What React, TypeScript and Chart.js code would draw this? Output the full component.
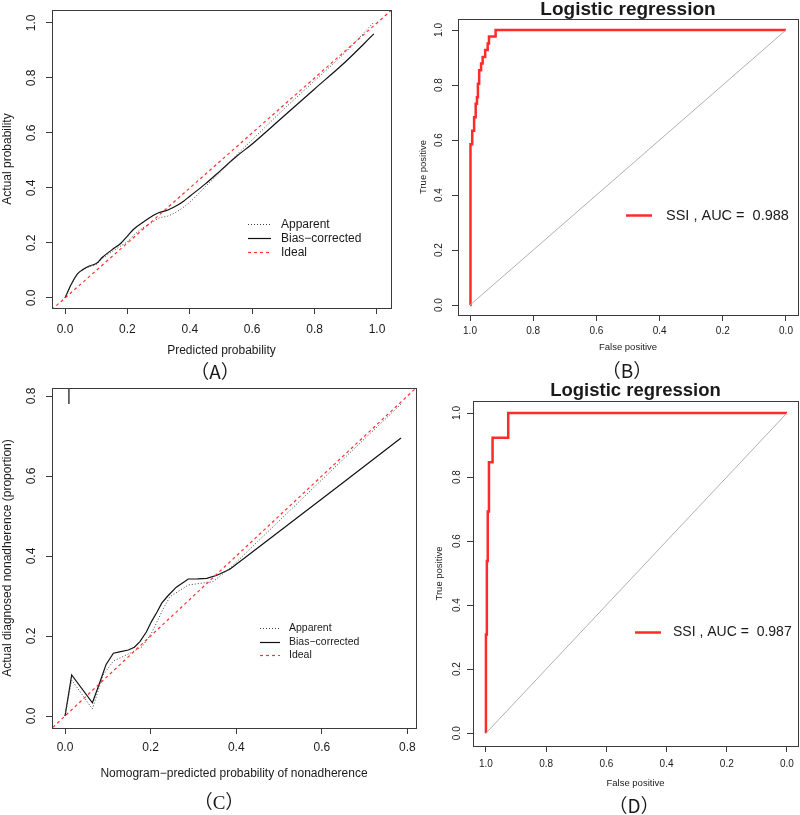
import React, { useEffect, useRef } from 'react';
import { Chart, registerables } from 'chart.js';
Chart.register(...registerables);

const W = 800;
const H = 815;
const FONT = '"Liberation Sans", Arial, Helvetica, sans-serif';
const CJK = '"Noto Sans CJK SC", sans-serif';
const CJK_SERIF = '"Liberation Serif", "Noto Sans CJK SC", serif';

// ---------- Panel A: calibration ----------
const A_X_TICKS = [0, 0.2, 0.4, 0.6, 0.8, 1.0];
const A_Y_TICKS = [0, 0.2, 0.4, 0.6, 0.8, 1.0];
const A_PRED = [0.00, 0.02, 0.04, 0.06, 0.08, 0.10, 0.12, 0.15, 0.18, 0.20, 0.22, 0.25, 0.28, 0.30, 0.33, 0.36, 0.38, 0.40, 0.45, 0.50, 0.55, 0.60, 0.70, 0.80, 0.90, 0.99];
const A_BIAS = [0.00, 0.05, 0.088, 0.105, 0.117, 0.125, 0.148, 0.175, 0.20, 0.225, 0.25, 0.275, 0.298, 0.31, 0.32, 0.337, 0.352, 0.37, 0.415, 0.465, 0.515, 0.56, 0.66, 0.76, 0.86, 0.96];
const A_APP = [0.00, 0.048, 0.086, 0.103, 0.114, 0.122, 0.143, 0.168, 0.19, 0.205, 0.228, 0.255, 0.275, 0.29, 0.298, 0.315, 0.33, 0.348, 0.405, 0.46, 0.52, 0.575, 0.685, 0.79, 0.895, 1.003];
const A_IDEAL = [-0.1, 1.1];

// ---------- Panel C: calibration ----------
const C_X_TICKS = [0, 0.2, 0.4, 0.6, 0.8];
const C_Y_TICKS = [0, 0.2, 0.4, 0.6, 0.8];
const C_PRED = [0.0, 0.0156, 0.064, 0.08, 0.096, 0.113, 0.13, 0.148, 0.162, 0.175, 0.19, 0.202, 0.215, 0.226, 0.24, 0.26, 0.288, 0.31, 0.331, 0.355, 0.385, 0.45, 0.55, 0.65, 0.785];
const C_BIAS = [0.0, 0.1025, 0.033, 0.08, 0.129, 0.157, 0.161, 0.165, 0.172, 0.186, 0.21, 0.236, 0.26, 0.282, 0.3, 0.322, 0.3425, 0.343, 0.344, 0.352, 0.367, 0.42, 0.502, 0.584, 0.695];
const C_APP_X = [0.0, 0.0156, 0.064, 0.089, 0.113, 0.152, 0.18, 0.202, 0.229, 0.245, 0.288, 0.346, 0.389, 0.45, 0.55, 0.65, 0.785];
const C_APP_Y = [0.0, 0.09, 0.0175, 0.1025, 0.1375, 0.157, 0.173, 0.207, 0.267, 0.298, 0.3275, 0.336, 0.373, 0.436, 0.539, 0.642, 0.78];
const C_IDEAL = [-0.1, 0.9];
const C_SPIKE_X = [0.009, 0.009];
const C_SPIKE_Y = [0.9, 0.78];

// ---------- Panels B & D: ROC ----------
const ROC_TICKS = [1.0, 0.8, 0.6, 0.4, 0.2, 0.0];
const ROC_DIAG_SPEC = [1, 0];
const ROC_DIAG_SENS = [0, 1];
const B_SPEC = [1.0, 1.0, 0.997, 0.993, 0.987, 0.982, 0.978, 0.975, 0.971, 0.965, 0.960, 0.952, 0.944, 0.940, 0.919, 0.0];
const B_SENS = [0.0, 0.463, 0.585, 0.634, 0.683, 0.732, 0.756, 0.805, 0.854, 0.878, 0.902, 0.927, 0.951, 0.976, 1.0, 1.0];
const B_AUC = 0.988;
const D_SPEC = [1.0, 1.0, 0.997, 0.994, 0.99, 0.978, 0.926, 0.0];
const D_SENS = [0.0, 0.308, 0.538, 0.692, 0.846, 0.923, 1.0, 1.0];
const D_AUC = 0.987;

const CAL_LABELS = ['Apparent', 'Bias\u2212corrected', 'Ideal'];
const ROC_LABEL = 'SSI';

type Pt = { x: number; y: number };
const pts = (xs: number[], ys: number[]): Pt[] => xs.map((x, i) => ({ x, y: ys[i] }));
const steps = (spec: number[], sens: number[]): Pt[] => {
  const out: Pt[] = [];
  spec.forEach((s, i) => {
    if (i > 0) out.push({ x: s, y: sens[i - 1] });
    out.push({ x: s, y: sens[i] });
  });
  return out;
};

const RED = '#ff2a2a';
const AXIS = '#3a3a3a';
const TXT = '#1a1a1a';

const STY_APP = { color: '#404040', width: 1, dash: [1, 2] };
const STY_BIAS = { color: '#111111', width: 1.2, dash: [] as number[] };
const STY_IDEAL = { color: '#ff3030', width: 1.2, dash: [3, 3] };

function line(data: Pt[], sty: any, extra: any = {}) {
  return {
    data,
    showLine: true,
    borderColor: sty.color,
    borderWidth: sty.width,
    borderDash: sty.dash,
    pointRadius: 0,
    fill: false,
    tension: 0,
    ...extra,
  };
}

function rotText(ctx: CanvasRenderingContext2D, s: string, x: number, y: number, font: string) {
  ctx.save();
  ctx.translate(x, y);
  ctx.rotate(-Math.PI / 2);
  ctx.font = font;
  ctx.textAlign = 'center';
  ctx.textBaseline = 'middle';
  ctx.fillText(s, 0, 0);
  ctx.restore();
}

function decor(p: any) {
  return {
    id: 'decor_' + p.key,
    afterDraw(chart: any) {
      const { ctx, chartArea: a, scales } = chart;
      ctx.save();
      ctx.strokeStyle = AXIS;
      ctx.lineWidth = 1;
      ctx.setLineDash([]);
      ctx.strokeRect(Math.round(a.left) + 0.5, Math.round(a.top) + 0.5, Math.round(a.right - a.left), Math.round(a.bottom - a.top));
      ctx.fillStyle = TXT;
      // y tick labels (rotated like R)
      const yf = `${p.tickSize}px ${FONT}`;
      p.yTicks.forEach((v: number) => rotText(ctx, v.toFixed(1), p.yTickX, scales.y.getPixelForValue(v), yf));
      // axis titles
      ctx.font = `${p.axisTitleSize}px ${FONT}`;
      ctx.textAlign = 'center';
      ctx.textBaseline = 'middle';
      ctx.fillText(p.xTitle, (a.left + a.right) / 2, p.xTitleY);
      rotText(ctx, p.yTitle, p.yTitleX, (a.top + a.bottom) / 2, `${p.axisTitleSize}px ${FONT}`);
      // main title
      if (p.title) {
        ctx.font = `bold ${p.title.size}px ${FONT}`;
        ctx.textBaseline = 'alphabetic';
        ctx.textAlign = 'center';
        ctx.fillText(p.title.text, (a.left + a.right) / 2, p.title.y);
      }
      // panel letter
      ctx.font = `${p.letter.size}px ${p.letter.font}`;
      ctx.textBaseline = 'middle';
      ctx.textAlign = 'center';
      ctx.fillText(p.letter.text, p.letter.x, p.letter.y);
      // legend
      const lg = p.legend;
      ctx.font = `${lg.size}px ${FONT}`;
      ctx.textAlign = 'left';
      ctx.textBaseline = 'middle';
      lg.items.forEach((it: any, i: number) => {
        const y = Math.round(lg.y + i * lg.dy) + 0.5;
        ctx.save();
        ctx.strokeStyle = it.sty.color;
        ctx.lineWidth = it.sty.width;
        ctx.setLineDash(it.sty.dash);
        ctx.beginPath();
        ctx.moveTo(lg.x1, y);
        ctx.lineTo(lg.x2, y);
        ctx.stroke();
        ctx.restore();
        ctx.fillStyle = TXT;
        ctx.fillText(it.label, lg.tx, y);
      });
      ctx.restore();
    },
  };
}

function makeConfig(p: any) {
  const xH = 40;
  const yW = 30;
  const lh = p.tickSize * 1.2;
  const xTickPad = p.xTickY - p.box.b - 6 - lh / 2;
  return {
    type: 'scatter',
    data: { datasets: p.datasets },
    options: {
      responsive: false,
      maintainAspectRatio: false,
      animation: false,
      devicePixelRatio: 1,
      events: [],
      layout: { padding: { left: p.box.l - yW, top: p.box.t, right: W - p.box.r, bottom: H - p.box.b - xH } },
      plugins: { legend: { display: false }, tooltip: { enabled: false }, title: { display: false } },
      scales: {
        x: {
          type: 'linear',
          position: 'bottom',
          reverse: !!p.reverseX,
          min: p.xMin,
          max: p.xMax,
          afterBuildTicks: (s: any) => { s.ticks = p.xTicks.map((v: number) => ({ value: v })); },
          afterFit: (s: any) => { s.height = xH; },
          ticks: {
            autoSkip: false, maxRotation: 0, minRotation: 0, padding: xTickPad, color: TXT,
            font: { family: FONT, size: p.tickSize },
            callback: (v: any) => Number(v).toFixed(1),
          },
          grid: { drawOnChartArea: false, drawTicks: true, tickLength: 6, color: AXIS, lineWidth: 1 },
          border: { display: false },
        },
        y: {
          type: 'linear',
          position: 'left',
          min: p.yMin,
          max: p.yMax,
          afterBuildTicks: (s: any) => { s.ticks = p.yTicks.map((v: number) => ({ value: v })); },
          afterFit: (s: any) => { s.width = yW; },
          ticks: { display: false },
          grid: { drawOnChartArea: false, drawTicks: true, tickLength: 6, color: AXIS, lineWidth: 1 },
          border: { display: false },
        },
      },
    },
    plugins: [decor(p)],
  };
}

const panelA = {
  key: 'A',
  box: { l: 52, t: 10, r: 391, b: 308 },
  xMin: -0.0417, xMax: 1.0449, yMin: -0.0364, yMax: 1.047,
  xTicks: A_X_TICKS, yTicks: A_Y_TICKS,
  tickSize: 12, xTickY: 330, yTickX: 32,
  axisTitleSize: 12, xTitle: 'Predicted probability', xTitleY: 351,
  yTitle: 'Actual probability', yTitleX: 8,
  letter: { text: '\uFF08A\uFF09', x: 215, y: 372, size: 19, font: CJK },
  legend: {
    x1: 248, x2: 271, tx: 281, y: 224, dy: 14, size: 12,
    items: [
      { label: CAL_LABELS[0], sty: STY_APP },
      { label: CAL_LABELS[1], sty: STY_BIAS },
      { label: CAL_LABELS[2], sty: STY_IDEAL },
    ],
  },
  datasets: [
    line(pts(A_IDEAL, A_IDEAL), STY_IDEAL),
    line(pts(A_PRED, A_APP), STY_APP, { cubicInterpolationMode: 'monotone' }),
    line(pts(A_PRED, A_BIAS), STY_BIAS, { cubicInterpolationMode: 'monotone' }),
  ],
};

const panelC = {
  key: 'C',
  box: { l: 52, t: 388, r: 416, b: 728 },
  xMin: -0.0304, xMax: 0.82, yMin: -0.03, yMax: 0.82,
  xTicks: C_X_TICKS, yTicks: C_Y_TICKS,
  tickSize: 12, xTickY: 748, yTickX: 32,
  axisTitleSize: 12, xTitle: 'Nomogram\u2212predicted probability of nonadherence', xTitleY: 774,
  yTitle: 'Actual diagnosed nonadherence (proportion)', yTitleX: 8,
  letter: { text: '\uFF08C\uFF09', x: 219, y: 804, size: 19, font: CJK_SERIF },
  legend: {
    x1: 260, x2: 280, tx: 289, y: 628, dy: 13.5, size: 10.5,
    items: [
      { label: CAL_LABELS[0], sty: STY_APP },
      { label: CAL_LABELS[1], sty: STY_BIAS },
      { label: CAL_LABELS[2], sty: STY_IDEAL },
    ],
  },
  datasets: [
    line(pts(C_SPIKE_X, C_SPIKE_Y), { color: '#555', width: 1, dash: [] }),
    line(pts(C_IDEAL, C_IDEAL), STY_IDEAL),
    line(pts(C_APP_X, C_APP_Y), STY_APP),
    line(pts(C_PRED, C_BIAS), STY_BIAS),
  ],
};

const STY_ROC = { color: RED, width: 2.5, dash: [] as number[] };
const STY_DIAG = { color: '#b0b0b0', width: 1, dash: [] as number[] };

const panelB = {
  key: 'B',
  box: { l: 458, t: 19, r: 798, b: 315 },
  reverseX: true,
  xMin: -0.038, xMax: 1.038, yMin: -0.036, yMax: 1.04,
  xTicks: ROC_TICKS, yTicks: ROC_TICKS,
  tickSize: 10, xTickY: 331, yTickX: 439,
  axisTitleSize: 9.5, xTitle: 'False positive', xTitleY: 347,
  yTitle: 'True positive', yTitleX: 423,
  title: { text: 'Logistic regression', size: 19, y: 15 },
  letter: { text: '\uFF08B\uFF09', x: 627, y: 371, size: 19, font: CJK },
  legend: {
    x1: 626, x2: 652, tx: 666, y: 215, dy: 0, size: 14.5,
    items: [{ label: `${ROC_LABEL} , AUC =  ${B_AUC.toFixed(3)}`, sty: STY_ROC }],
  },
  datasets: [
    line(pts(ROC_DIAG_SPEC, ROC_DIAG_SENS), STY_DIAG),
    line(steps(B_SPEC, B_SENS), STY_ROC),
  ],
};

const panelD = {
  key: 'D',
  box: { l: 473, t: 401, r: 798, b: 746 },
  reverseX: true,
  xMin: -0.0365, xMax: 1.043, yMin: -0.04, yMax: 1.0375,
  xTicks: ROC_TICKS, yTicks: ROC_TICKS,
  tickSize: 10, xTickY: 764, yTickX: 457,
  axisTitleSize: 9.5, xTitle: 'False positive', xTitleY: 783,
  yTitle: 'True positive', yTitleX: 439,
  title: { text: 'Logistic regression', size: 18.5, y: 396 },
  letter: { text: '\uFF08D\uFF09', x: 634, y: 806, size: 19, font: CJK },
  legend: {
    x1: 635, x2: 661, tx: 673, y: 632, dy: 0, size: 14,
    items: [{ label: `${ROC_LABEL} , AUC =  ${D_AUC.toFixed(3)}`, sty: STY_ROC }],
  },
  datasets: [
    line(pts(ROC_DIAG_SPEC, ROC_DIAG_SENS), STY_DIAG),
    line(steps(D_SPEC, D_SENS), STY_ROC),
  ],
};

const PANELS = [panelA, panelB, panelC, panelD];

export default function App() {
  const refs = useRef<(HTMLCanvasElement | null)[]>([]);
  useEffect(() => {
    document.body.style.margin = '0';
    document.body.style.background = '#ffffff';
    const charts = PANELS.map((p, i) => new Chart(refs.current[i] as HTMLCanvasElement, makeConfig(p) as any));
    return () => charts.forEach((c) => c.destroy());
  }, []);
  return (
    <div style={{ position: 'relative', width: W, height: H, background: '#fff', overflow: 'hidden' }}>
      {PANELS.map((p, i) => (
        <canvas
          key={p.key}
          ref={(el) => { refs.current[i] = el; }}
          width={W}
          height={H}
          style={{ position: 'absolute', left: 0, top: 0, width: W, height: H }}
        />
      ))}
    </div>
  );
}
